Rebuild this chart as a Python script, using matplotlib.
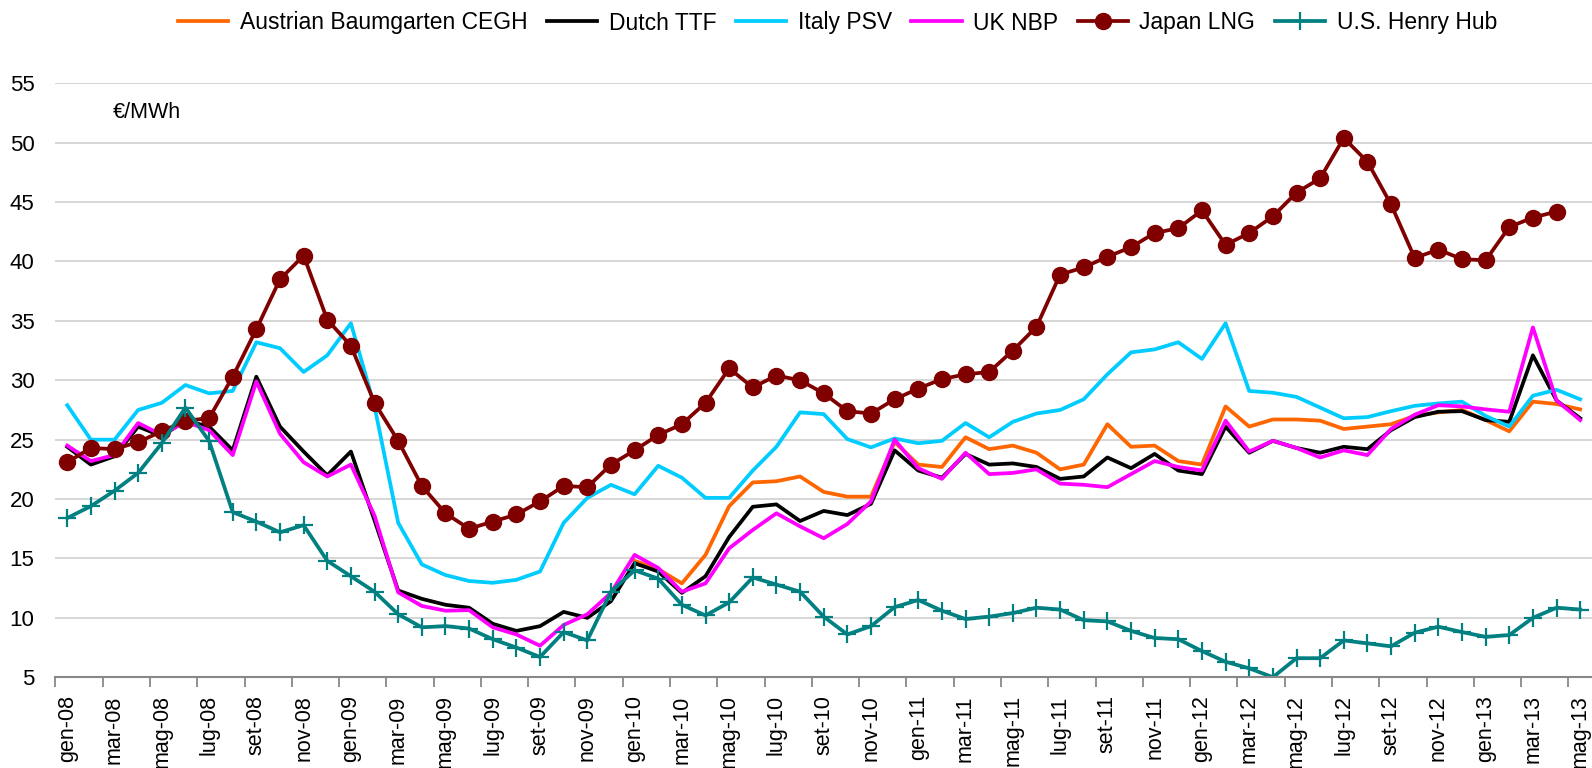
import numpy as np
import matplotlib
matplotlib.use("Agg")
import matplotlib.pyplot as plt
from matplotlib.ticker import FixedLocator, NullFormatter

plt.rcParams['font.family'] = ['Liberation Sans', 'DejaVu Sans']

# --- data (monthly, gen-08 .. mag-13) ---
mesi = ["gen", "feb", "mar", "apr", "mag", "giu", "lug", "ago", "set", "ott", "nov", "dic"]
months = [f"{mesi[i % 12]}-{8 + i // 12:02d}" for i in range(65)]

nan = np.nan
austrian = [nan] * 24 + [
    14.8, 14.1, 12.9, 15.3, 19.4, 21.4, 21.5, 21.9, 20.6, 20.2,
    20.2, 24.8, 22.9, 22.7, 25.2, 24.2, 24.5, 23.9, 22.5, 22.9,
    26.3, 24.4, 24.5, 23.2, 22.9, 27.8, 26.1, 26.7, 26.7, 26.6,
    25.9, 26.1, 26.3, 27.0, 27.3, 27.5, 26.65, 25.7, 28.2, 28.0, 27.55]
dutch = [24.4, 22.9, 23.6, 26.1, 25.3, 26.6, 26.1, 24.1, 30.3, 26.1,
         24.0, 22.0, 24.0, 18.2, 12.3, 11.6, 11.1, 10.85, 9.5, 8.9,
         9.3, 10.5, 10.0, 11.4, 14.6, 13.9, 12.1, 13.5, 16.8, 19.35,
         19.55, 18.15, 19.0, 18.65, 19.6, 24.1, 22.4, 21.8, 23.8, 22.9,
         23.0, 22.7, 21.7, 21.9, 23.5, 22.6, 23.8, 22.4, 22.1, 26.1,
         23.9, 24.9, 24.3, 23.9, 24.4, 24.2, 25.8, 26.9, 27.35, 27.4,
         26.65, 26.5, 32.1, 28.3, 26.8]
italy = [27.9, 25.0, 25.0, 27.5, 28.1, 29.6, 28.9, 29.1, 33.2, 32.7,
         30.7, 32.1, 34.8, 27.8, 18.0, 14.5, 13.6, 13.1, 12.95, 13.2,
         13.9, 18.0, 20.1, 21.2, 20.4, 22.8, 21.8, 20.1, 20.1, 22.4,
         24.4, 27.3, 27.15, 25.05, 24.35, 25.1, 24.7, 24.9, 26.4, 25.2,
         26.5, 27.2, 27.5, 28.4, 30.5, 32.35, 32.6, 33.2, 31.8, 34.8,
         29.1, 28.95, 28.6, 27.7, 26.8, 26.9, 27.4, 27.85, 28.05, 28.2,
         27.0, 26.1, 28.7, 29.2, 28.4]
uk = [24.5, 23.2, 23.7, 26.4, 25.4, 26.5, 25.8, 23.7, 29.9, 25.5,
      23.1, 21.9, 22.9, 18.6, 12.15, 11.0, 10.6, 10.65, 9.2, 8.6,
      7.65, 9.4, 10.3, 12.1, 15.3, 14.2, 12.2, 12.9, 15.85, 17.4,
      18.8, 17.7, 16.7, 17.9, 19.8, 25.0, 22.6, 21.7, 23.9, 22.1,
      22.2, 22.5, 21.3, 21.2, 21.0, 22.1, 23.2, 22.7, 22.4, 26.6,
      24.0, 24.9, 24.3, 23.5, 24.1, 23.7, 25.9, 27.1, 27.9, 27.8,
      27.55, 27.35, 34.45, 28.3, 26.65]
japan = [23.1, 24.3, 24.2, 24.8, 25.7, 26.6, 26.8, 30.3, 34.3, 38.5,
         40.5, 35.1, 32.9, 28.1, 24.9, 21.1, 18.8, 17.5, 18.1, 18.7,
         19.8, 21.1, 21.0, 22.9, 24.1, 25.4, 26.3, 28.1, 31.0, 29.4,
         30.4, 30.0, 28.9, 27.4, 27.2, 28.4, 29.3, 30.1, 30.5, 30.7,
         32.5, 34.5, 38.9, 39.5, 40.4, 41.2, 42.4, 42.8, 44.3, 41.4,
         42.4, 43.8, 45.8, 47.0, 50.4, 48.4, 44.8, 40.3, 41.0, 40.2,
         40.1, 42.9, 43.7, 44.2, nan]
henry = [18.4, 19.4, 20.7, 22.2, 24.7, 27.7, 24.9, 18.9, 18.1, 17.2,
         17.8, 14.8, 13.5, 12.2, 10.3, 9.2, 9.3, 9.1, 8.2, 7.5,
         6.7, 8.8, 8.1, 12.2, 14.0, 13.3, 11.1, 10.2, 11.3, 13.4,
         12.8, 12.2, 10.1, 8.6, 9.3, 10.9, 11.5, 10.6, 9.9, 10.1,
         10.4, 10.85, 10.7, 9.8, 9.7, 8.9, 8.3, 8.2, 7.2, 6.3,
         5.75, 5.0, 6.6, 6.6, 8.1, 7.85, 7.6, 8.75, 9.25, 8.8,
         8.4, 8.55, 10.0, 10.85, 10.7]

x = np.arange(len(months))

fig = plt.figure(figsize=(15.92, 7.68), dpi=100)
ax = fig.add_axes([0.0348, 0.1182, 0.9652, 0.7733])

lw = 2.7
ax.plot(x, austrian, color='#FF6600', lw=lw, label='Austrian Baumgarten CEGH')
ax.plot(x, dutch, color='black', lw=lw, label='Dutch TTF')
ax.plot(x, italy, color='#00CCFF', lw=lw, label='Italy PSV')
ax.plot(x, uk, color='#FF00FF', lw=lw, label='UK NBP')
ax.plot(x, japan, color='#800000', lw=lw, marker='o', ms=11.5, label='Japan LNG')
ax.plot(x, henry, color='#008080', lw=lw, marker='+', ms=13, mew=1.6, label='U.S. Henry Hub')

ax.set_xlim(-0.5, len(months) - 0.5)
ax.set_ylim(5, 55)
ax.set_yticks(np.arange(5, 56, 5))
ax.yaxis.grid(True, color='#CFCFCF', lw=1.2)
ax.set_axisbelow(True)
ax.tick_params(axis='y', length=0, pad=15, labelsize=16)

# tick marks at category boundaries, labels at category centres
ax.xaxis.set_major_locator(FixedLocator(np.arange(-0.5, len(months), 2)))
ax.xaxis.set_major_formatter(NullFormatter())
ax.xaxis.set_minor_locator(FixedLocator(x[::2]))
ax.set_xticklabels(months[::2], minor=True, rotation=90, fontsize=15.5)
ax.tick_params(axis='x', which='major', length=7, width=1.3, color='#888888', direction='out')
ax.tick_params(axis='x', which='minor', length=0, pad=13)

for s in ['top', 'right', 'left']:
    ax.spines[s].set_visible(False)
ax.spines['bottom'].set_color('#888888')
ax.spines['bottom'].set_linewidth(1.5)

fig.text(112.5 / 1592, 1 - 112 / 768, '€/MWh', fontsize=15.5, va='center', ha='left')

fig.legend(loc='center', bbox_to_anchor=(0.526, 1 - 23 / 768), ncol=6, frameon=False,
           fontsize=16.5, handlelength=2.2, handletextpad=0.5, columnspacing=0.85)

fig.savefig('out.png', dpi=100)
